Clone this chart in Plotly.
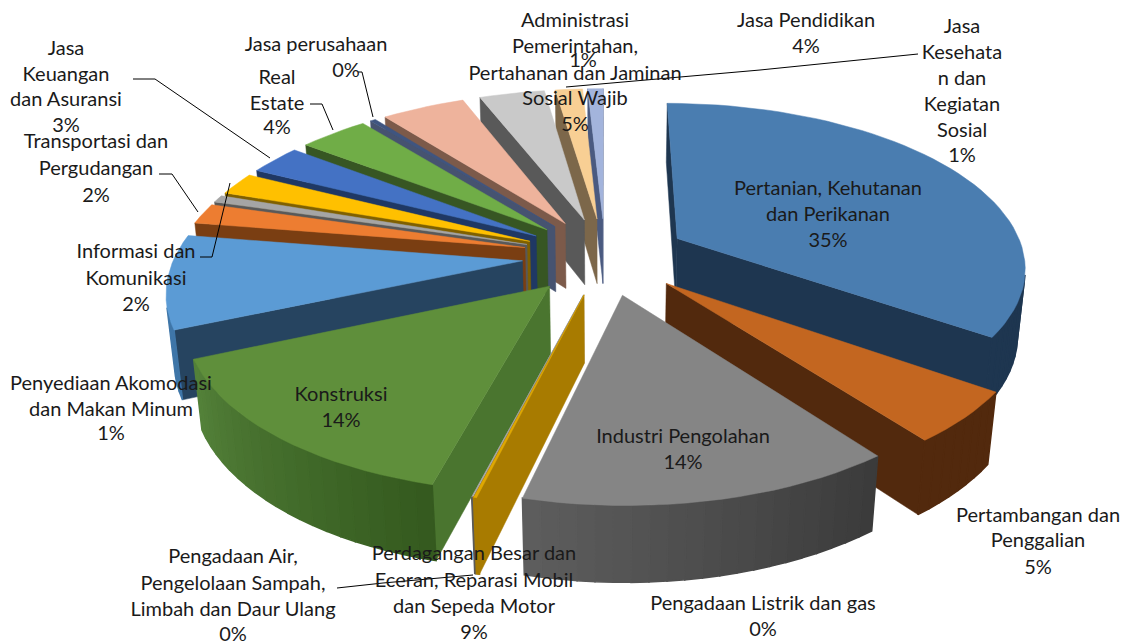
import math
import plotly.graph_objects as go

categories = ["Pertanian, Kehutanan dan Perikanan", "Pertambangan dan Penggalian", "Industri Pengolahan",
              "Pengadaan Listrik dan gas", "Pengadaan Air, Pengelolaan Sampah, Limbah dan Daur Ulang", "Konstruksi",
              "Perdagangan Besar dan Eceran, Reparasi Mobil dan Sepeda Motor", "Transportasi dan Pergudangan",
              "Penyediaan Akomodasi dan Makan Minum", "Informasi dan Komunikasi", "Jasa Keuangan dan Asuransi",
              "Real Estate", "Jasa perusahaan", "Administrasi Pemerintahan, Pertahanan dan Jaminan Sosial Wajib",
              "Jasa Pendidikan", "Jasa Kesehatan dan Kegiatan Sosial", "Jasa Lainnya"]
values = [34.7, 4.9, 14.2, 0.12, 0.05, 14.48, 9.0, 2.0, 0.7, 2.2, 2.9, 3.8, 0.3, 4.6, 3.6, 1.5, 0.85]
top_colors = ["#4A7DB0", "#C36620", "#858585", "#E0A800", "#9A9A9A", "#5F8F3B", "#5B9BD5", "#ED7D31",
              "#A5A5A5", "#FFC000", "#4472C4", "#70AD47", "#3F5580", "#EEB39C", "#C9C9C9", "#F8CF94", "#A3B4DC"]
side_colors = ["#1E3650", "#52290D", "#3E3E3E", "#A87B00", "#5A5A5A", "#4A752F", "#264460", "#7A3E12",
               "#595959", "#7F6000", "#1F3864", "#375623", "#465370", "#7C5A4A", "#595959", "#7C674A", "#4A5A80"]
wall_from = ["#1E3650", "#52290D", "#3A3A3A", "#A87B00", "#5A5A5A", "#34591E", "#3F76A8", "#7A3E12",
             "#595959", "#7F6000", "#1F3864", "#375623", "#465370", "#7C5A4A", "#595959", "#7C674A", "#4A5A80"]
wall_to = ["#1E3650", "#52290D", "#5E5E5E", "#A87B00", "#5A5A5A", "#54823A", "#3F76A8", "#7A3E12",
           "#595959", "#7F6000", "#1F3864", "#375623", "#465370", "#7C5A4A", "#595959", "#7C674A", "#4A5A80"]

# label text, line centres
labels = [
    (["Administrasi", "Pemerintahan,", "Pertahanan dan Jaminan", "Sosial Wajib", "5%"], 575, [20, 46, 73, 98, 124]),
    (["1%"], 583, [60]),
    (["Jasa Pendidikan", "4%"], 806, [20, 46]),
    (["Jasa", "Kesehata", "n dan", "Kegiatan", "Sosial", "1%"], 962, [26, 52, 78, 104, 130, 155]),
    (["Jasa perusahaan"], 316, [44]),
    (["0%"], 346, [70]),
    (["Real", "Estate", "4%"], 277, [77, 103, 127]),
    (["Jasa", "Keuangan", "dan Asuransi", "3%"], 66, [48, 74, 99, 125]),
    (["Transportasi dan", "Pergudangan", "2%"], 96, [141, 168, 195]),
    (["Informasi dan", "Komunikasi", "2%"], 136, [251, 278, 304]),
    (["Penyediaan Akomodasi", "dan Makan Minum", "1%"], 111, [383, 409, 433]),
    (["Konstruksi", "14%"], 341, [394, 420]),
    (["Pertanian, Kehutanan", "dan Perikanan", "35%"], 828, [188, 214, 240]),
    (["Industri Pengolahan", "14%"], 683, [436, 462]),
    (["Pertambangan dan", "Penggalian", "5%"], 1038, [515, 540, 567]),
    (["Pengadaan Listrik dan gas", "0%"], 763, [603, 629]),
    (["Perdagangan Besar dan", "Eceran, Reparasi Mobil", "dan Sepeda Motor", "9%"], 474, [553, 580, 606, 632]),
    (["Pengadaan Air,", "Pengelolaan Sampah,", "Limbah dan Daur Ulang", "0%"], 233, [556, 583, 609, 634]),
]
leaders = [
    [(133, 79), (155, 79), (270, 158)],
    [(358, 72), (362, 72), (373, 117)],
    [(310, 104), (322, 104), (333, 130)],
    [(159, 174), (172, 174), (198, 212)],
    [(200, 257), (212, 257), (230, 183)],
    [(566, 87), (760, 70), (918, 54)],
    [(337, 588), (383, 583), (473, 575)],
]

# projection of the tilted pie
CX, CY, D, F, TILT, EXPLODE, H = 605, 256, 5.49, 1909, math.radians(27.8), 0.238, 0.22
S, C = math.sin(TILT), math.cos(TILT)


def project(X, Y, Z=0.0):
    depth = D + Y * C - Z * S
    return CX + F * X / depth, CY - F * (Y * S + Z * C) / depth


def mix(a, b, t):
    pa = [int(a[i:i + 2], 16) for i in (1, 3, 5)]
    pb = [int(b[i:i + 2], 16) for i in (1, 3, 5)]
    return "#%02X%02X%02X" % tuple(round(p + (q - p) * t) for p, q in zip(pa, pb))


fig = go.Figure()


def poly(points, color, name=None, width=0.5):
    xs = [p[0] for p in points] + [points[0][0]]
    ys = [p[1] for p in points] + [points[0][1]]
    fig.add_trace(go.Scatter(x=xs, y=ys, mode="lines", fill="toself", fillcolor=color,
                             line=dict(color=color, width=width), showlegend=False,
                             name=name or "", hoverinfo="name" if name else "skip", hoveron="fills"))


total = sum(values)
slices = []
a = 0.0
for i, v in enumerate(values):
    b = a + v / total * 2 * math.pi
    slices.append((i, a, b))
    a = b
slices.sort(key=lambda t: -math.cos((t[1] + t[2]) / 2))

cam_y, cam_z = -D * C, D * S
for i, a0, a1 in slices:
    mid = (a0 + a1) / 2
    ox, oy = EXPLODE * math.sin(mid), EXPLODE * math.cos(mid)
    n = max(2, int((a1 - a0) / math.radians(2.5)) + 1)
    angs = [a0 + (a1 - a0) * k / n for k in range(n + 1)]
    rim = [(ox + math.sin(t), oy + math.cos(t)) for t in angs]
    # radial walls
    for ang, sign in ((a0, -1), (a1, 1)):
        nx, ny = sign * math.cos(ang), -sign * math.sin(ang)
        if nx * (0 - ox) + ny * (cam_y - oy) > 0:
            rx, ry = ox + math.sin(ang), oy + math.cos(ang)
            poly([project(ox, oy), project(rx, ry), project(rx, ry, -H), project(ox, oy, -H)], side_colors[i])
    # outer wall
    for k in range(n):
        t = (angs[k] + angs[k + 1]) / 2
        if math.sin(t) * (0 - ox - math.sin(t)) + math.cos(t) * (cam_y - oy - math.cos(t)) > 0:
            col = mix(wall_from[i], wall_to[i], (k + 0.5) / n)
            p, q = rim[k], rim[k + 1]
            poly([project(*p), project(*q), project(*q, -H), project(*p, -H)], col, width=1.5)
    # top
    poly([project(ox, oy)] + [project(*p) for p in rim], top_colors[i], name=categories[i])

for pts in leaders:
    fig.add_trace(go.Scatter(x=[p[0] for p in pts], y=[p[1] for p in pts], mode="lines",
                             line=dict(color="#000000", width=1), showlegend=False, hoverinfo="skip"))

for lines, x, ys in labels:
    fig.add_trace(go.Scatter(x=[x] * len(lines), y=[y + 2 for y in ys], text=lines, mode="text",
                             textposition="middle center",
                             textfont=dict(family="Lato", size=20, color="#1A1A1A"), cliponaxis=False,
                             showlegend=False, hoverinfo="skip"))

fig.update_layout(
    width=1125, height=644, margin=dict(l=0, r=0, t=0, b=0), paper_bgcolor="white", plot_bgcolor="white",
    xaxis=dict(range=[0, 1125], visible=False, fixedrange=True),
    yaxis=dict(range=[644, 0], visible=False, fixedrange=True),
)
fig.write_html("out.html", config={"displayModeBar": False}, post_script="document.body.style.margin='0';")
